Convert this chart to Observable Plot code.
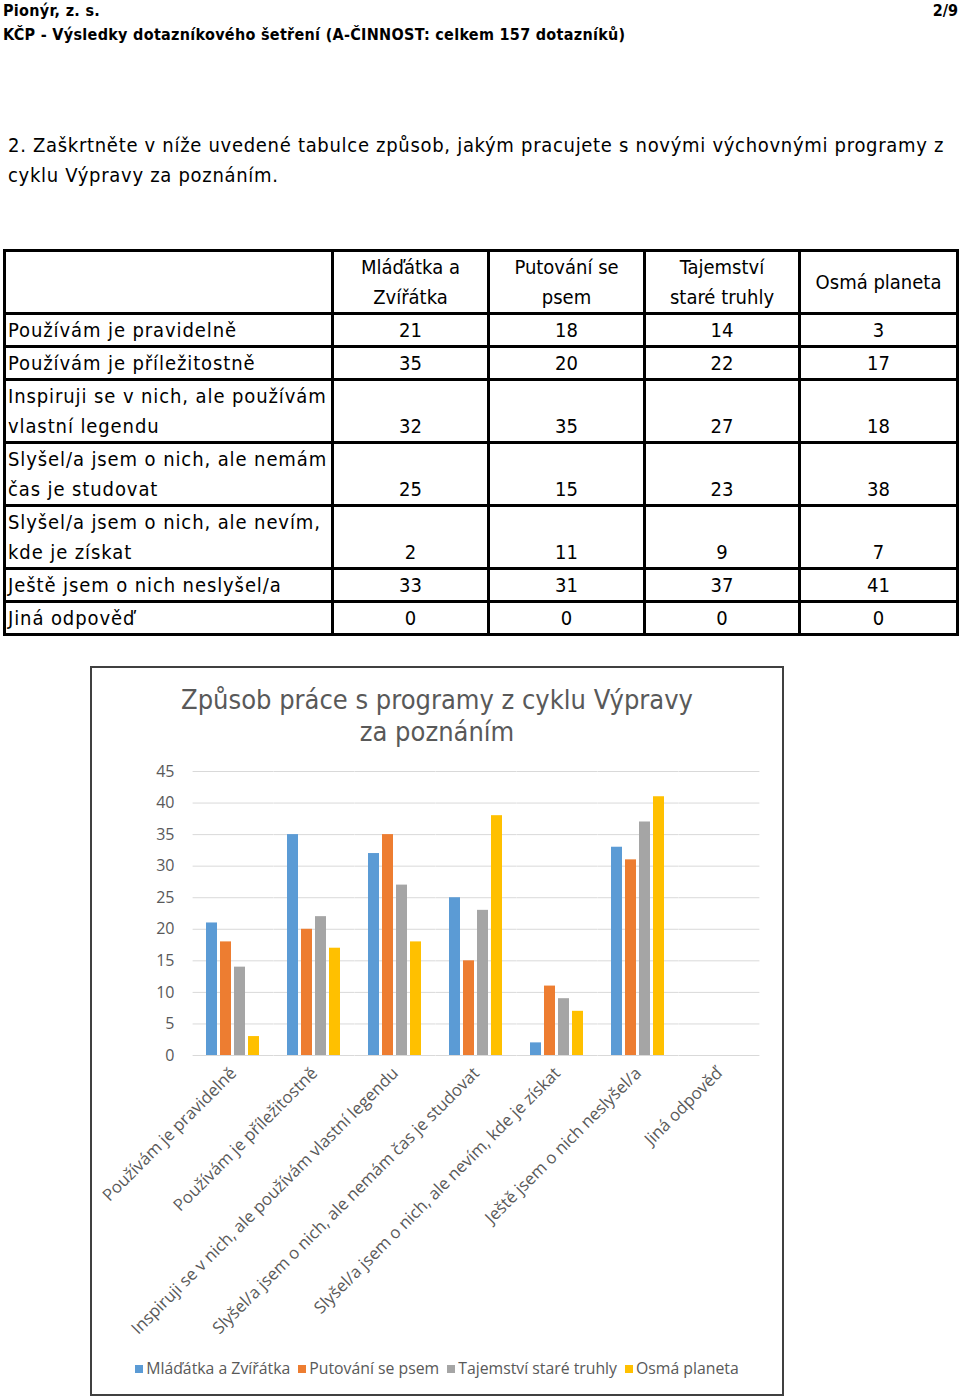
<!DOCTYPE html>
<html>
<head>
<meta charset="utf-8">
<script src="https://cdn.jsdelivr.net/npm/d3@7"></script>
<script src="https://cdn.jsdelivr.net/npm/@observablehq/plot@0.6"></script>
<style>
  body { margin: 0; background: #fff; width: 960px; height: 1400px; position: relative; overflow: hidden; }
  .doc { font-family: "DejaVu Sans Condensed", "DejaVu Sans", sans-serif; color: #000; }
  #h1 { position: absolute; left: 3px; top: 1px; font-weight: bold; font-size: 16px; letter-spacing: 0.3px; }
  #page { position: absolute; right: 2px; top: 1px; font-weight: bold; font-size: 16px; }
  #h2 { position: absolute; left: 3px; top: 25px; font-weight: bold; font-size: 16px; letter-spacing: 0.3px; }
  #q { position: absolute; left: 8px; top: 130px; width: 951px; font-size: 20px; line-height: 30px; letter-spacing: 0.7px; }
  table { position: absolute; left: 3px; top: 249px; border-collapse: collapse; table-layout: fixed; font-size: 20px; }
  td, th { border: 3px solid #000; padding: 0 2px; line-height: 30px; font-weight: normal; }
  th { text-align: center; vertical-align: middle; }
  td { text-align: center; vertical-align: bottom; }
  td.lab { text-align: left; letter-spacing: 0.9px; }
  #box { position: absolute; left: 90px; top: 666px; width: 690px; height: 726px; border: 2px solid #404040; }
  #title { position: absolute; left: 90px; top: 684px; width: 694px; text-align: center; font-size: 27px; line-height: 32px; color: #595959; }
  #chart { position: absolute; left: 91px; top: 750px; }
  #legend { position: absolute; left: 90px; top: 1357px; width: 694px; text-align: center; font-family: "Open Sans", sans-serif; font-size: 15.8px; color: #595959; }
  #legend span.item { margin: 0 4px; white-space: nowrap; }
  #legend span.sw { display: inline-block; width: 8px; height: 8px; margin-right: 3px; vertical-align: 1px; }
</style>
</head>
<body>
<div id="h1" class="doc">Pionýr, z. s.</div>
<div id="page" class="doc">2/9</div>
<div id="h2" class="doc">KČP - Výsledky dotazníkového šetření (A-ČINNOST: celkem 157 dotazníků)</div>
<div id="q" class="doc">2. Zaškrtněte v níže uvedené tabulce způsob, jakým pracujete s novými výchovnými programy z cyklu Výpravy za poznáním.</div>
<table id="tbl" class="doc"></table>
<div id="box"></div>
<div id="title" class="doc">Způsob práce s programy z cyklu Výpravy<br>za poznáním</div>
<div id="chart"></div>
<div id="legend"></div>
<script>
// ---- data ----
const categories = [
  "Používám je pravidelně",
  "Používám je příležitostně",
  "Inspiruji se v nich, ale používám vlastní legendu",
  "Slyšel/a jsem o nich, ale nemám čas je studovat",
  "Slyšel/a jsem o nich, ale nevím, kde je získat",
  "Ještě jsem o nich neslyšel/a",
  "Jiná odpověď"
];
const tableRowLabels = [
  "Používám je pravidelně",
  "Používám je příležitostně",
  "Inspiruji se v nich, ale používám\nvlastní legendu",
  "Slyšel/a jsem o nich, ale nemám\nčas je studovat",
  "Slyšel/a jsem o nich, ale nevím,\nkde je získat",
  "Ještě jsem o nich neslyšel/a",
  "Jiná odpověď"
];
const series = ["Mláďátka a Zvířátka", "Putování se psem", "Tajemství staré truhly", "Osmá planeta"];
const tableHeaders = ["Mláďátka a\nZvířátka", "Putování se\npsem", "Tajemství\nstaré truhly", "Osmá planeta"];
const mladatka  = [21, 35, 32, 25, 2, 33, 0];
const putovani  = [18, 20, 35, 15, 11, 31, 0];
const tajemstvi = [14, 22, 27, 23, 9, 37, 0];
const osma      = [3, 17, 18, 38, 7, 41, 0];
const seriesValues = [mladatka, putovani, tajemstvi, osma];
const colors = ["#5b9bd5", "#ed7d31", "#a5a5a5", "#ffc000"];
const yTicks = [0, 5, 10, 15, 20, 25, 30, 35, 40, 45];

// ---- table ----
const esc = s => s.replace(/&/g, "&amp;").replace(/</g, "&lt;").replace(/\n/g, "<br>");
const colW = [328, 156, 156, 155, 158];
const rowH = [63, 29, 28, 60, 60, 61, 29, 30];
let html = "<colgroup>" + colW.map(w => `<col style="width:${w}px">`).join("") + "</colgroup>";
html += `<tr style="height:${rowH[0]}px"><th></th>` + tableHeaders.map(h => `<th>${esc(h)}</th>`).join("") + "</tr>";
tableRowLabels.forEach((lab, i) => {
  html += `<tr style="height:${rowH[i + 1]}px"><td class="lab">${esc(lab)}</td>` +
    seriesValues.map(v => `<td>${v[i]}</td>`).join("") + "</tr>";
});
document.getElementById("tbl").innerHTML = html;

// ---- chart ----
const data = [];
categories.forEach((c, i) => series.forEach((s, j) => data.push({category: c, series: s, value: seriesValues[j][i]})));

const chart = Plot.plot({
  width: 692,
  height: 600,
  marginLeft: 99,
  marginRight: 21,
  marginTop: 21,
  marginBottom: 295,
  style: {fontFamily: "'Open Sans', sans-serif", color: "#595959", background: "transparent"},
  fx: {domain: categories, paddingInner: 0.33, paddingOuter: 0.165, label: null},
  x: {domain: series, paddingInner: 0.2, paddingOuter: 0, axis: null},
  y: {domain: [0, 45], label: null},
  color: {domain: series, range: colors},
  marks: [
    Plot.ruleY(yTicks, {stroke: "#d9d9d9", strokeWidth: 1, insetLeft: -13.4, insetRight: -13.4}),
    Plot.barY(data, {fx: "category", x: "series", y: "value", fill: "series"}),
    Plot.axisY({ticks: yTicks, tickSize: 0, tickPadding: 32, fontSize: 16, label: null}),
    Plot.axisFx({anchor: "bottom", tickRotate: -45, tickSize: 0, tickPadding: 15, fontSize: 16.8, label: null})
  ]
});
document.getElementById("chart").appendChild(chart);

// ---- legend ----
document.getElementById("legend").innerHTML = series.map((s, j) =>
  `<span class="item"><span class="sw" style="background:${colors[j]}"></span>${esc(s)}</span>`).join("");
</script>
</body>
</html>
